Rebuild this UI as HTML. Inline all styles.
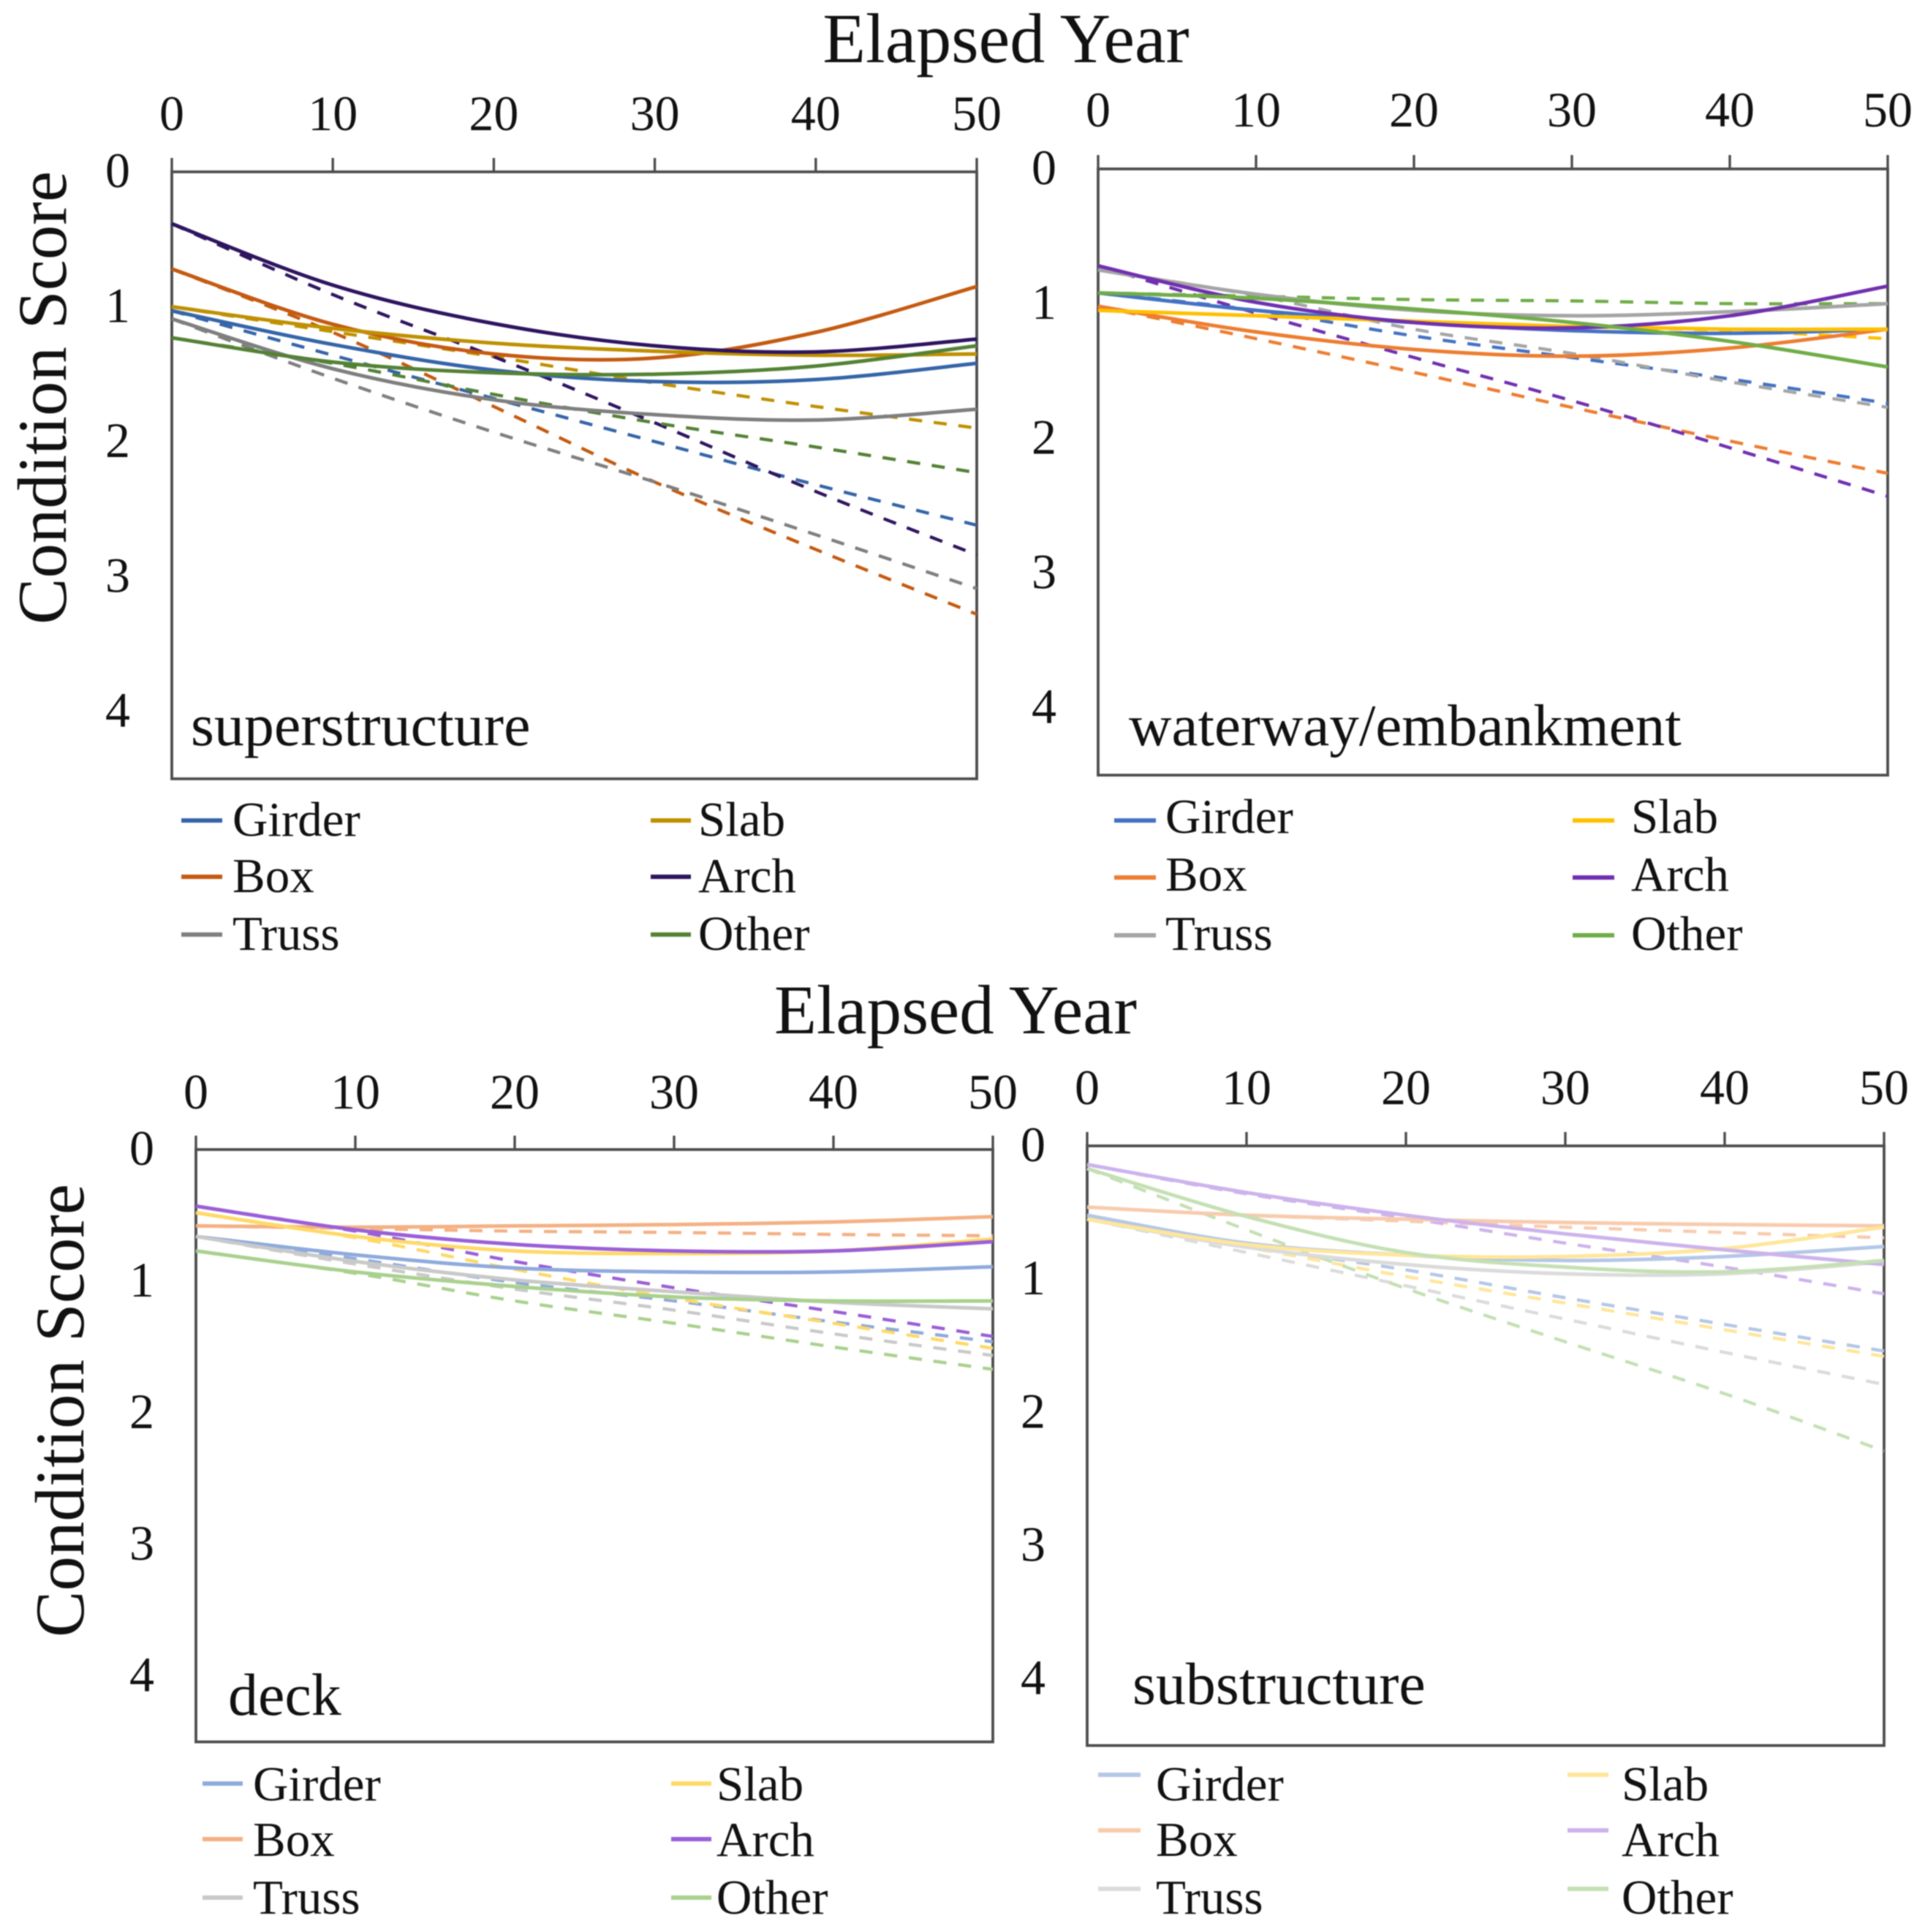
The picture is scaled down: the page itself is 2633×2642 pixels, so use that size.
<!DOCTYPE html>
<html>
<head>
<meta charset="utf-8">
<title>Condition score by elapsed year</title>
<style>
html,body{margin:0;padding:0;background:#fff;}
svg{display:block;filter:blur(0.8px);}
text{font-family:"Liberation Serif",serif;fill:#111;}
</style>
</head>
<body>
<svg id="chart" xmlns="http://www.w3.org/2000/svg" width="2633" height="2642" viewBox="0 0 2633 2642">
  <rect width="2633" height="2642" fill="#fff"/>
  <text x="1376" y="85" font-size="96" text-anchor="middle">Elapsed Year</text>
  <text x="1307" y="1413" font-size="95" text-anchor="middle">Elapsed Year</text>
  <text transform="translate(90,544) rotate(-90)" font-size="95" text-anchor="middle">Condition Score</text>
  <text transform="translate(114,1929) rotate(-90)" font-size="95" text-anchor="middle">Condition Score</text>
</svg>
<script>
const years = [0, 10, 20, 30, 40, 50];
const xTickLabels = [0, 10, 20, 30, 40, 50];
const yTickLabels = [0, 1, 2, 3, 4];
const categories = ['Girder', 'Box', 'Truss', 'Slab', 'Arch', 'Other'];

// superstructure: solid = fitted, dashed = projected
const supGirderSolid = [1.03, 1.28, 1.47, 1.555, 1.54, 1.42];
const supBoxSolid = [0.72, 1.13, 1.35, 1.38, 1.19, 0.85];
const supTrussSolid = [1.09, 1.46, 1.69, 1.80, 1.84, 1.76];
const supSlabSolid = [1.0, 1.16, 1.27, 1.33, 1.36, 1.35];
const supArchSolid = [0.385, 0.84, 1.125, 1.29, 1.335, 1.24];
const supOtherSolid = [1.23, 1.41, 1.49, 1.5, 1.44, 1.29];
const supGirderDashed = [1.03, 1.36, 1.68, 2.0, 2.32, 2.62];
const supBoxDashed = [0.72, 1.19, 1.74, 2.3, 2.8, 3.28];
const supTrussDashed = [1.09, 1.53, 1.93, 2.3, 2.69, 3.09];
const supSlabDashed = [1.0, 1.185, 1.37, 1.565, 1.74, 1.9];
const supArchDashed = [0.385, 0.91, 1.37, 1.86, 2.37, 2.84];
const supOtherDashed = [1.23, 1.42, 1.65, 1.86, 2.04, 2.23];

// waterway/embankment
const watGirderSolid = [0.92, 1.05, 1.14, 1.2, 1.22, 1.19];
const watBoxSolid = [1.02, 1.21, 1.34, 1.39, 1.33, 1.19];
const watTrussSolid = [0.75, 0.93, 1.05, 1.09, 1.06, 1.0];
const watSlabSolid = [1.05, 1.09, 1.13, 1.17, 1.19, 1.19];
const watArchSolid = [0.72, 0.99, 1.14, 1.18, 1.09, 0.87];
const watOtherSolid = [0.92, 0.96, 1.04, 1.14, 1.28, 1.47];
const watGirderDashed = [0.92, 1.05, 1.24, 1.4, 1.56, 1.74];
const watBoxDashed = [1.02, 1.26, 1.51, 1.77, 2.02, 2.26];
const watTrussDashed = [0.75, 0.94, 1.19, 1.37, 1.58, 1.77];
const watSlabDashed = [1.05, 1.09, 1.13, 1.17, 1.2, 1.26];
const watArchDashed = [0.72, 1.07, 1.4, 1.72, 2.07, 2.43];
const watOtherDashed = [0.92, 0.945, 0.97, 0.98, 1.0, 1.0];

// deck
const deckGirderSolid = [0.66, 0.80, 0.9, 0.93, 0.93, 0.89];
const deckBoxSolid = [0.58, 0.59, 0.58, 0.57, 0.55, 0.51];
const deckTrussSolid = [0.66, 0.85, 0.99, 1.08, 1.16, 1.21];
const deckSlabSolid = [0.48, 0.66, 0.77, 0.79, 0.77, 0.68];
const deckArchSolid = [0.43, 0.61, 0.72, 0.77, 0.77, 0.70];
const deckOtherSolid = [0.77, 0.93, 1.04, 1.12, 1.15, 1.15];
const deckGirderDashed = [0.66, 0.83, 1.01, 1.15, 1.31, 1.46];
const deckBoxDashed = [0.58, 0.6, 0.62, 0.63, 0.645, 0.655];
const deckTrussDashed = [0.66, 0.87, 1.06, 1.22, 1.4, 1.565];
const deckSlabDashed = [0.48, 0.67, 0.91, 1.13, 1.32, 1.51];
const deckArchDashed = [0.43, 0.62, 0.85, 1.05, 1.23, 1.42];
const deckOtherDashed = [0.77, 0.94, 1.15, 1.32, 1.5, 1.67];

// substructure
const subGirderSolid = [0.52, 0.73, 0.82, 0.86, 0.83, 0.755];
const subBoxSolid = [0.46, 0.52, 0.55, 0.575, 0.59, 0.6];
const subTrussSolid = [0.55, 0.76, 0.89, 0.96, 0.96, 0.87];
const subSlabSolid = [0.55, 0.74, 0.82, 0.83, 0.77, 0.61];
const subArchSolid = [0.14, 0.35, 0.52, 0.66, 0.78, 0.89];
const subOtherSolid = [0.17, 0.53, 0.8, 0.91, 0.945, 0.86];
const subGirderDashed = [0.52, 0.75, 0.93, 1.14, 1.34, 1.54];
const subBoxDashed = [0.46, 0.52, 0.565, 0.61, 0.65, 0.69];
const subTrussDashed = [0.55, 0.8, 1.05, 1.3, 1.55, 1.79];
const subSlabDashed = [0.55, 0.76, 0.98, 1.18, 1.38, 1.58];
const subArchDashed = [0.14, 0.36, 0.54, 0.73, 0.91, 1.11];
const subOtherDashed = [0.17, 0.63, 1.07, 1.47, 1.86, 2.29];

const panels = [
  { name: 'superstructure', left: 235, right: 1336, top: 235, bottom: 1065, tickBase: 178, yLabelX: 161, yLabelDy: 21, labelX: 261, labelY: 1019, labelSize: 82,
    colors: ['#3565A8', '#C55A11', '#7F7F7F', '#BF9000', '#2E1560', '#548235'],
    solid: [supGirderSolid, supBoxSolid, supTrussSolid, supSlabSolid, supArchSolid, supOtherSolid],
    dashed: [supGirderDashed, supBoxDashed, supTrussDashed, supSlabDashed, supArchDashed, supOtherDashed],
    legend: { l1: 248, l2: 304, t1: 318, l3: 890, l4: 945, t2: 955, lineY: [1122, 1199, 1278], textY: [1143, 1220, 1299] } },
  { name: 'waterway/embankment', left: 1502, right: 2582, top: 231, bottom: 1060, tickBase: 173, yLabelX: 1428, yLabelDy: 21, labelX: 1544, labelY: 1019, labelSize: 81,
    colors: ['#4472C4', '#ED7D31', '#A5A5A5', '#FFC000', '#7030B0', '#70AD47'],
    solid: [watGirderSolid, watBoxSolid, watTrussSolid, watSlabSolid, watArchSolid, watOtherSolid],
    dashed: [watGirderDashed, watBoxDashed, watTrussDashed, watSlabDashed, watArchDashed, watOtherDashed],
    legend: { l1: 1524, l2: 1581, t1: 1594, l3: 2151, l4: 2208, t2: 2231, lineY: [1122, 1200, 1279], textY: [1139, 1218, 1299] } },
  { name: 'deck', left: 268, right: 1358, top: 1572, bottom: 2382, tickBase: 1516, yLabelX: 194, yLabelDy: 21, labelX: 312, labelY: 2345, labelSize: 82,
    colors: ['#8FAADC', '#F4B183', '#C9C9C9', '#FFD966', '#9A5FD8', '#A9D18E'],
    solid: [deckGirderSolid, deckBoxSolid, deckTrussSolid, deckSlabSolid, deckArchSolid, deckOtherSolid],
    dashed: [deckGirderDashed, deckBoxDashed, deckTrussDashed, deckSlabDashed, deckArchDashed, deckOtherDashed],
    legend: { l1: 277, l2: 332, t1: 346, l3: 918, l4: 973, t2: 980, lineY: [2439, 2515, 2595], textY: [2462, 2538, 2617] } },
  { name: 'substructure', left: 1487, right: 2577, top: 1567, bottom: 2387, tickBase: 1510, yLabelX: 1413, yLabelDy: 21, labelX: 1549, labelY: 2330, labelSize: 82,
    colors: ['#B4C7E7', '#F8CBAD', '#DBDBDB', '#FFE699', '#CDB3EC', '#C5E0B4'],
    solid: [subGirderSolid, subBoxSolid, subTrussSolid, subSlabSolid, subArchSolid, subOtherSolid],
    dashed: [subGirderDashed, subBoxDashed, subTrussDashed, subSlabDashed, subArchDashed, subOtherDashed],
    legend: { l1: 1502, l2: 1560, t1: 1581, l3: 2144, l4: 2200, t2: 2218, lineY: [2427, 2503, 2583], textY: [2462, 2538, 2617] } }
];

const NS = 'http://www.w3.org/2000/svg';
const root = document.getElementById('chart');
const AXIS = '#4d4d4d';

function make(tag, attrs, parent, txt) {
  const el = document.createElementNS(NS, tag);
  for (const k in attrs) el.setAttribute(k, attrs[k]);
  if (txt !== undefined) el.textContent = txt;
  parent.appendChild(el);
  return el;
}

function smoothPath(xs, ys) {
  let d = 'M' + xs[0].toFixed(1) + ' ' + ys[0].toFixed(1);
  for (let i = 0; i < xs.length - 1; i++) {
    const i0 = Math.max(0, i - 1), i3 = Math.min(xs.length - 1, i + 2);
    const c1x = xs[i] + (xs[i + 1] - xs[i0]) / 6, c1y = ys[i] + (ys[i + 1] - ys[i0]) / 6;
    const c2x = xs[i + 1] - (xs[i3] - xs[i]) / 6, c2y = ys[i + 1] - (ys[i3] - ys[i]) / 6;
    d += 'C' + c1x.toFixed(1) + ' ' + c1y.toFixed(1) + ' ' + c2x.toFixed(1) + ' ' + c2y.toFixed(1) + ' ' + xs[i + 1].toFixed(1) + ' ' + ys[i + 1].toFixed(1);
  }
  return d;
}

panels.forEach(function (p) {
  const slug = p.name.replace('/', '-');
  const xScale = function (v) { return p.left + (v / 50) * (p.right - p.left); };
  const yScale = function (v) { return p.top + (v / 4.5) * (p.bottom - p.top); };

  const g = make('g', {}, root);
  
  

  const frame = make('rect', { x: p.left, y: p.top, width: p.right - p.left, height: p.bottom - p.top, fill: 'none', stroke: AXIS, 'stroke-width': 3.8 }, g);
  
  

  xTickLabels.forEach(function (t) {
    const tick = make('line', { x1: xScale(t), x2: xScale(t), y1: p.top, y2: p.top - 19, stroke: AXIS, 'stroke-width': 3.4 }, g);
    
    
    const label = make('text', { x: xScale(t), y: p.tickBase, 'font-size': 68, 'text-anchor': 'middle' }, g, String(t));
    
    
  });

  yTickLabels.forEach(function (t) {
    const label = make('text', { x: p.yLabelX, y: yScale(t) + p.yLabelDy, 'font-size': 68, 'text-anchor': 'middle' }, g, String(t));
    
    
  });

  p.dashed.forEach(function (vals, i) {
    const line = make('path', { d: smoothPath(years.map(xScale), vals.map(yScale)), fill: 'none', stroke: p.colors[i], 'stroke-width': 4.4, 'stroke-dasharray': '18 16' }, g);
    
    
  });
  p.solid.forEach(function (vals, i) {
    const line = make('path', { d: smoothPath(years.map(xScale), vals.map(yScale)), fill: 'none', stroke: p.colors[i], 'stroke-width': 5 }, g);
    
    
  });

  const panelLabel = make('text', { x: p.labelX, y: p.labelY, 'font-size': p.labelSize }, g, p.name);
  
  

  categories.forEach(function (c, i) {
    const col = i < 3 ? 0 : 1;
    const row = i % 3;
    const lg = p.legend;
    const swatch = make('line', { x1: col ? lg.l3 : lg.l1, x2: col ? lg.l4 : lg.l2, y1: lg.lineY[row], y2: lg.lineY[row], stroke: p.colors[i], 'stroke-width': 6 }, g);
    
    
    const label = make('text', { x: col ? lg.t2 : lg.t1, y: lg.textY[row], 'font-size': 67 }, g, c);
    
    
  });
});
</script>
</body>
</html>
